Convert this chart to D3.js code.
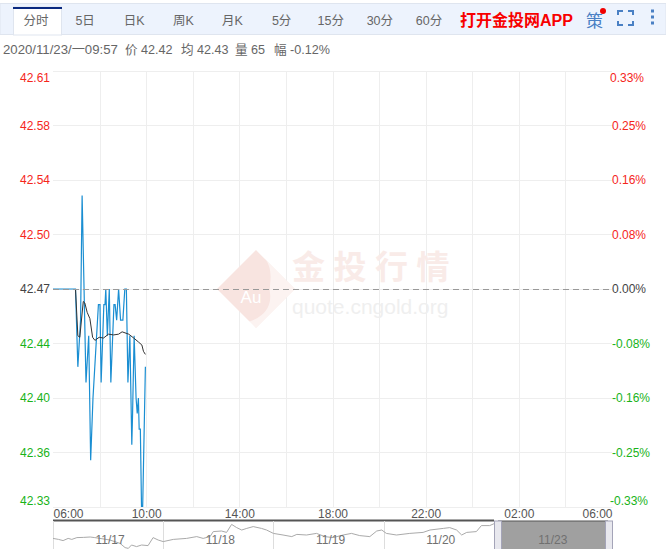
<!DOCTYPE html>
<html><head><meta charset="utf-8">
<script src="https://cdnjs.cloudflare.com/ajax/libs/d3/7.8.5/d3.min.js"></script>
<style>html,body{margin:0;padding:0;background:#fff;overflow:hidden}svg{display:block}
text{font-family:"Liberation Sans","Noto Sans CJK SC",sans-serif}</style></head><body>
<svg id="c" width="666" height="549"></svg>
<script>
const tabs=["分时","5日","日K","周K","月K","5分","15分","30分","60分"];
const priceLabels=["42.61","42.58","42.54","42.50","42.47","42.44","42.40","42.36","42.33"];
const pctLabels=["0.33%","0.25%","0.16%","0.08%","0.00%","-0.08%","-0.16%","-0.25%","-0.33%"];
const priceTicks=[42.61,42.575,42.54,42.505,42.47,42.435,42.40,42.365,42.33];
const timeLabels=["06:00","10:00","14:00","18:00","22:00","02:00","06:00"];
const infoLabels=["2020/11/23/一09:57","价 42.42","均 42.43","量 65","幅 -0.12%"];
const minutes=[0,58,64,71,75,85,92,97,103,117,121,124,131,134,136,140,145,149,157,160,164,169,174,180,185,189,193,198,203,205,209,214,217,220,222,225,228,231,238];
const prices=[42.47,42.47,42.42,42.45,42.53,42.41,42.44,42.36,42.40,42.46,42.46,42.41,42.46,42.46,42.47,42.44,42.47,42.41,42.46,42.46,42.45,42.47,42.45,42.45,42.47,42.47,42.41,42.44,42.37,42.39,42.44,42.40,42.39,42.40,42.38,42.38,42.33,42.33,42.42];
const avgMinutes=[58,64,69,78,82,88,95,102,108,119,130,143,156,169,178,195,208,220,229,233,238];
const avgPrices=[42.47,42.440,42.439,42.462,42.461,42.455,42.451,42.439,42.437,42.439,42.4385,42.441,42.4405,42.441,42.4425,42.441,42.4385,42.436,42.434,42.430,42.428];
const navHours=[0,1.2,2.2,3.3,4.1,5.2,6.6,8.1,9.1,10.2,12.4,14.6,15.7,16.4,17.1,18.2,19.3,20.7,21.8,22.9,24,26.2,29.1,31.3,32.7,34.2,34.9,36.7,37.8,38.9,40,41.1,42.2,43.6,45.4,46.5,48,50.1,52,53.1,55.2,57.4,59.2,61,63.2,65,66.8,69,70.5,71.6,72.6,74.8,77.7,80.6,82.1,85,86.4,87.9,89,90.1,92.2,93.3,95.1,96.2,98.8,100.2];
const navPrices=[42.33,42.28,42.22,42.33,42.28,42.37,42.38,42.4,42.37,42.33,42.25,42.08,41.87,41.83,42.0,41.92,42.0,41.97,42.37,42.25,42.17,42.28,42.33,42.42,42.33,42.42,42.67,42.7,42.63,43.03,42.87,42.75,42.83,42.92,42.83,42.75,42.58,42.5,42.42,42.53,42.5,42.58,42.42,42.37,42.5,42.58,42.47,42.42,42.7,42.75,42.58,42.5,42.58,42.63,42.75,42.83,42.87,42.75,42.5,42.63,42.67,42.97,42.97,43.08,42.97,42.92];
const navDays=["11/17","11/18","11/19","11/20","11/23"];

const svg=d3.select("#c");
const L=53,R=612,T=71,B=507;
const x=d3.scaleLinear().domain([0,1440]).range([L,R]);
const y=d3.scaleLinear().domain([42.33,42.61]).range([B,T]);
const nx=d3.scaleLinear().domain([0,120]).range([L,604]);
const ny=d3.scaleLinear().domain([41.5,44.5]).range([555,495]);

// tab bar
svg.append("rect").attr("x",0).attr("y",3.5).attr("width",666).attr("height",31).attr("fill","#edf3fd").attr("stroke","#dfe5ef");
svg.append("rect").attr("x",13.5).attr("y",7).attr("width",48).attr("height",28).attr("fill","#fff").attr("stroke","#dfe5ef");
svg.append("rect").attr("x",13).attr("y",7).attr("width",49).attr("height",2).attr("fill","#0b2a80");
const tabX=d3.scalePoint().domain(d3.range(tabs.length)).range([36,429]);
svg.selectAll(".tab").data(tabs).join("text").attr("class","tab")
 .attr("x",(d,i)=>tabX(i)).attr("y",25).attr("text-anchor","middle").attr("font-size",12.5).attr("fill","#666").text(d=>d);
svg.append("text").attr("x",460).attr("y",26).attr("font-size",16).attr("font-weight","bold").attr("fill","#f80000").text("打开金投网APP");
svg.append("text").attr("x",586).attr("y",27).attr("font-size",17).attr("fill","#4a80c4").text("策");
svg.append("circle").attr("cx",603).attr("cy",11).attr("r",3).attr("fill","#f00000");
svg.append("path").attr("d","M618 15V11H623M628 11H633V15M633 21V25H628M623 25H618V21").attr("fill","none").attr("stroke","#4a80c4").attr("stroke-width",2);
svg.selectAll(".dot").data([12,18,24]).join("rect").attr("class","dot").attr("x",651).attr("y",d=>d-2.5).attr("width",3).attr("height",3).attr("fill","#4a80c4");

// info row
const infoX=[3,125,181,235,274];
const infoSize=[13.2,12.6,12.6,12.6,12.6];
svg.selectAll(".info").data(infoLabels).join("text").attr("class","info")
 .attr("x",(d,i)=>infoX[i]).attr("y",54).attr("font-size",(d,i)=>infoSize[i]).attr("fill","#666").text(d=>d);

// grid
const grid=svg.append("g").attr("stroke","#eeeeee").attr("shape-rendering","crispEdges");
grid.selectAll(".h").data(priceTicks).join("line").attr("x1",L).attr("x2",R).attr("y1",d=>Math.round(y(d))).attr("y2",d=>Math.round(y(d)));
grid.selectAll(".v").data(d3.range(120,1440,120)).join("line").attr("x1",d=>Math.round(x(d))).attr("x2",d=>Math.round(x(d))).attr("y1",T).attr("y2",B);

// watermark
const wm=svg.append("g");
wm.append("path").attr("d","M256 250L295 289L256 328L217 289Z").attr("fill","#f8e4e0");
wm.append("path").attr("d","M256 250C278 265 268 285 270 293C272 308 262 318 248 322L256 328L295 289Z").attr("fill","#fff").attr("opacity",.55);
wm.append("text").attr("x",251).attr("y",303).attr("text-anchor","middle").attr("font-size",17).attr("fill","#fff").text("Au");
wm.append("text").attr("x",292).attr("y",279).attr("font-size",33).attr("font-weight","bold").attr("letter-spacing",8.5).attr("fill","#f9ebe8").text("金投行情");
wm.append("text").attr("x",292).attr("y",314).attr("font-size",21).attr("fill","#efefef").text("quote.cngold.org");

// series
const line=d3.line().x(d=>d[0]).y(d=>d[1]);
svg.append("path").datum(minutes.map((m,i)=>[x(m),y(prices[i])])).attr("d",line).attr("fill","none").attr("stroke","#1a8ed2").attr("stroke-width",1.2);
svg.append("path").datum(avgMinutes.map((m,i)=>[x(m),y(avgPrices[i])])).attr("d",line).attr("fill","none").attr("stroke","#333").attr("stroke-width",1);
svg.append("line").attr("x1",L).attr("x2",R).attr("y1",289).attr("y2",289).attr("stroke","#999").attr("stroke-dasharray","6,4").attr("shape-rendering","crispEdges");

// price axes
const colour=i=>i<4?"#f5261b":i===4?"#444":"#19b319";
const ax=svg.append("g").attr("transform",`translate(${L-3},0)`).call(d3.axisLeft(y).tickValues(priceTicks).tickSize(0).tickPadding(0).tickFormat((d,i)=>priceLabels[i]));
ax.select(".domain").remove();
ax.selectAll("text").attr("font-size",12).attr("fill",(d,i)=>colour(i));
const ar=svg.append("g").attr("transform",`translate(612,0)`).call(d3.axisRight(y).tickValues(priceTicks).tickSize(0).tickPadding(0).tickFormat((d,i)=>pctLabels[i]));
ar.select(".domain").remove();
ar.selectAll("text").attr("font-size",12).attr("fill",(d,i)=>colour(i));
[ax,ar].forEach(a=>{
 a.selectAll(".tick").filter((d,i)=>i===0).select("text").attr("dy","0.9em");
 a.selectAll(".tick").filter((d,i)=>i===8).select("text").attr("dy","-0.25em");
});
ar.selectAll(".tick").filter((d,i)=>i===0||i===8).select("text").attr("x",-2);

// time axis
const tTicks=d3.range(0,1441,240);
const at=svg.append("g").attr("transform",`translate(0,${B})`).call(d3.axisBottom(x).tickValues(tTicks).tickSize(0).tickPadding(0).tickFormat((d,i)=>timeLabels[i]));
at.select(".domain").attr("stroke","#eeeeee");
at.selectAll("text").attr("font-size",12).attr("fill","#555").attr("dy","0.9em").attr("text-anchor",(d,i)=>i===0?"start":i===6?"end":"middle");

// navigator
const nav=svg.append("g");
nav.append("line").attr("x1",L).attr("x2",494).attr("y1",520.5).attr("y2",520.5).attr("stroke","#555").attr("stroke-width",2);
nav.selectAll(".sep").data([0,24,48,72]).join("line").attr("x1",d=>Math.round(nx(d))+.5).attr("x2",d=>Math.round(nx(d))+.5).attr("y1",521).attr("y2",549).attr("stroke","#ddd");
nav.append("path").datum(navHours.map((h,i)=>[nx(h),ny(navPrices[i])])).attr("d",line).attr("fill","none").attr("stroke","#aaa").attr("stroke-width",1);
nav.append("rect").attr("x",498).attr("y",521).attr("width",110).attr("height",28).attr("fill","#a0a0a0");
nav.append("line").attr("x1",498).attr("x2",608).attr("y1",521).attr("y2",521).attr("stroke","#555");
nav.selectAll(".day").data(navDays).join("text").attr("class","day").attr("x",(d,i)=>nx(i*24+12)+(i===4?4:2)).attr("y",544).attr("text-anchor","middle").attr("font-size",12).attr("fill","#707070").text(d=>d);
nav.selectAll(".hd").data([494.5,605.5]).join("rect").attr("class","hd").attr("x",d=>d).attr("y",521).attr("width",7).attr("height",30).attr("fill","#e8e8ee").attr("stroke","#a4a4b8");
</script></body></html>
